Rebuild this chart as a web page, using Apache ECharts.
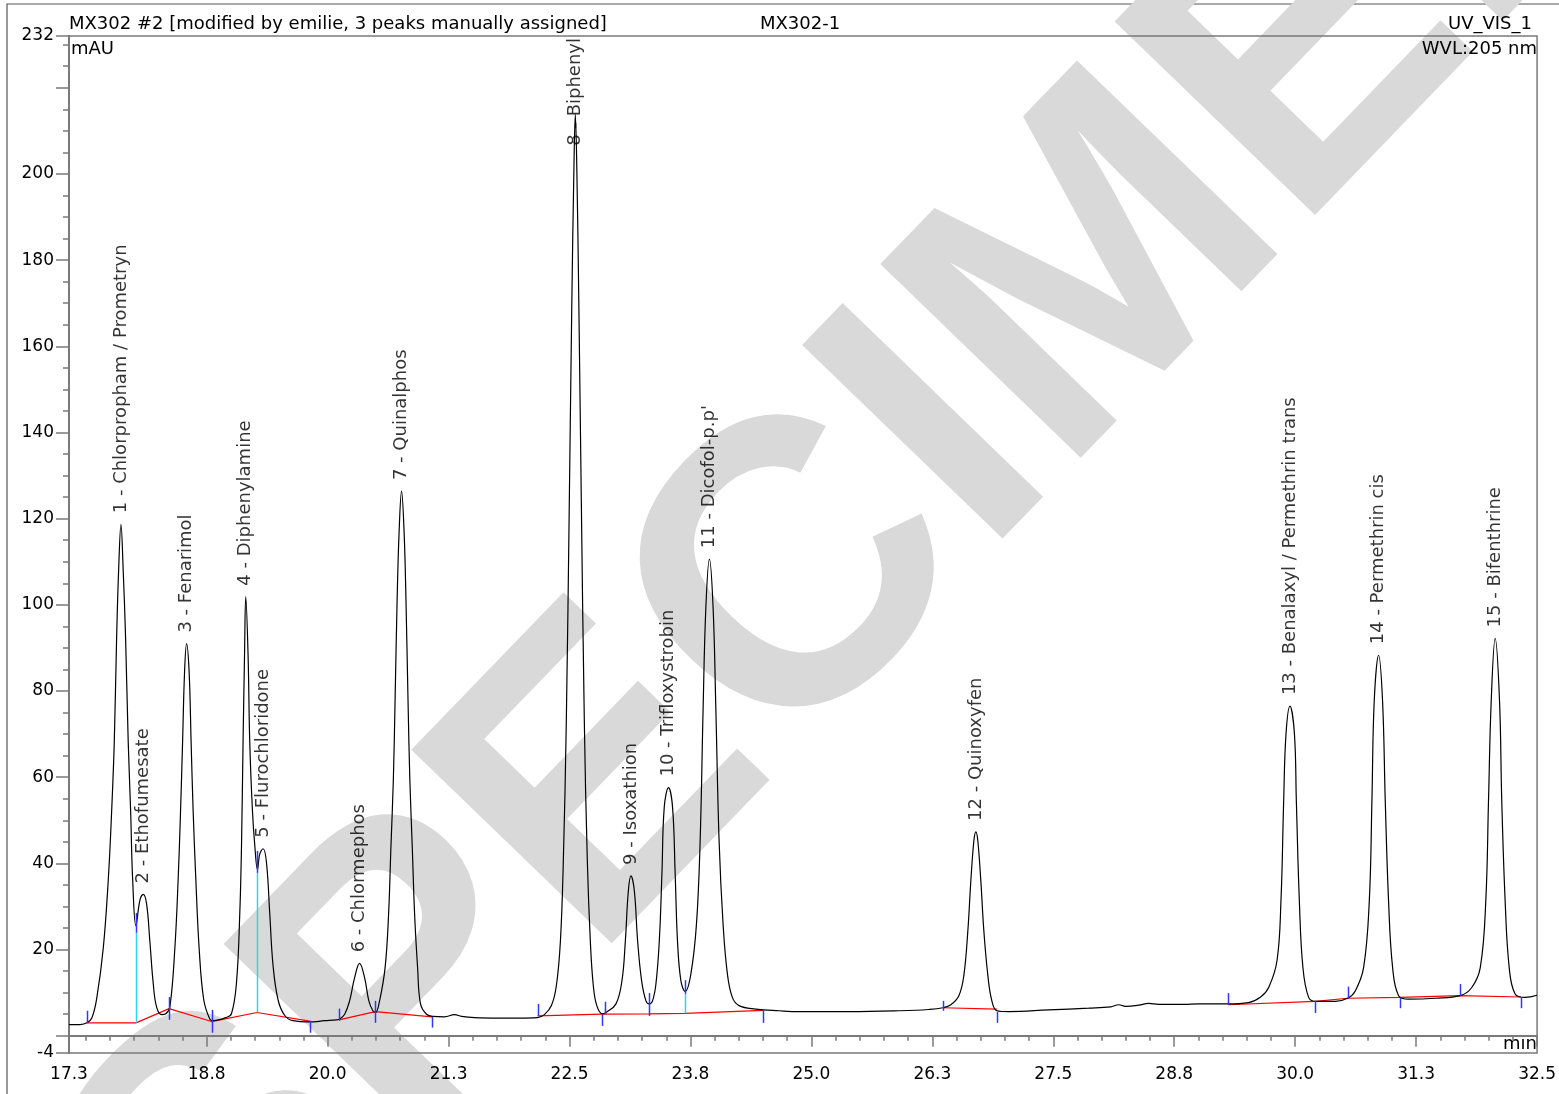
<!DOCTYPE html>
<html><head><meta charset="utf-8">
<script src="https://cdn.jsdelivr.net/npm/echarts@6/dist/echarts.min.js"></script>
<style>html,body{margin:0;padding:0;background:#fff;}#chart{width:1559px;height:1094px;}</style>
</head><body><div id="chart"></div>
<script>
// ---- chromatogram signal (time in min, signal in mAU) ----
const timeMin = [17.327,17.44,17.513,17.564,17.613,17.681,17.733,17.768,17.795,17.819,17.84,17.864,17.887,17.912,17.939,17.964,17.985,18.019,18.06,18.094,18.129,18.163,18.197,18.232,18.284,18.328,18.37,18.421,18.455,18.48,18.501,18.521,18.542,18.569,18.589,18.61,18.638,18.672,18.72,18.782,18.816,18.948,19.006,19.058,19.092,19.11,19.126,19.141,19.154,19.178,19.195,19.223,19.247,19.275,19.299,19.333,19.368,19.402,19.436,19.488,19.557,19.642,19.815,19.97,20.093,20.124,20.176,20.227,20.279,20.33,20.382,20.426,20.468,20.495,20.537,20.594,20.63,20.654,20.679,20.697,20.718,20.739,20.764,20.79,20.81,20.831,20.85,20.875,20.899,20.93,20.96,21.022,21.087,21.208,21.311,21.384,21.518,21.776,21.982,22.168,22.24,22.313,22.364,22.406,22.436,22.467,22.498,22.524,22.545,22.56,22.576,22.596,22.622,22.653,22.684,22.715,22.746,22.782,22.839,22.877,22.98,23.042,23.077,23.108,23.135,23.17,23.204,23.245,23.29,23.324,23.358,23.393,23.428,23.455,23.479,23.523,23.565,23.592,23.616,23.651,23.695,23.754,23.812,23.85,23.881,23.909,23.946,23.984,24.012,24.046,24.087,24.132,24.183,24.252,24.425,24.666,24.872,25.389,25.905,26.214,26.359,26.441,26.524,26.575,26.617,26.648,26.679,26.7,26.72,26.751,26.782,26.824,26.865,26.917,27.041,27.453,27.866,28.093,28.175,28.258,28.382,28.485,28.589,28.847,29.001,29.304,29.517,29.643,29.726,29.812,29.853,29.881,29.905,29.946,29.992,30.012,30.043,30.08,30.139,30.208,30.415,30.542,30.621,30.707,30.766,30.793,30.817,30.862,30.903,30.931,30.965,31.007,31.069,31.172,31.448,31.705,31.825,31.913,31.97,31.998,32.026,32.067,32.112,32.135,32.17,32.212,32.273,32.376,32.5];
const signal = [2.6,2.6,3.0,4.2,8.6,20.3,36.2,52.2,68.2,92.2,108.1,118.7,108.1,92.2,68.2,52.2,36.2,25.5,31.5,32.8,30.6,21.8,12.3,6.7,4.9,5.1,6.7,20.3,36.2,52.2,68.2,84.2,91.0,84.2,68.2,52.2,36.2,20.3,8.3,3.9,3.5,4.2,5.1,12.3,28.3,44.2,68.2,88.1,101.9,88.1,68.2,52.2,44.2,38.6,42.2,43.4,40.2,28.3,16.3,8.3,4.7,3.5,3.2,3.5,3.7,3.9,5.0,8.1,13.5,16.8,13.5,8.1,5.8,5.4,8.1,15.8,28.2,43.7,59.2,77.7,100.9,117.1,126.4,117.1,100.9,77.7,59.2,43.7,28.2,15.8,7.4,5.0,4.5,4.4,4.9,4.5,4.2,4.1,4.1,4.2,4.9,7.0,11.6,22.0,40.6,73.1,124.1,170.5,200.6,213.9,200.6,170.5,124.1,73.1,40.6,22.0,11.6,7.0,5.1,5.4,7.4,12.8,22.0,33.6,37.1,33.6,22.0,12.8,8.1,7.4,8.1,12.0,22.0,37.5,53.0,57.6,53.0,37.5,22.0,12.8,10.3,14.3,25.9,45.2,76.2,99.3,110.6,99.3,76.2,45.2,25.9,14.3,8.9,7.0,6.2,5.8,5.6,5.6,5.8,6.1,6.5,7.2,9.3,13.9,24.4,36.0,45.2,47.3,45.2,36.0,24.4,13.9,8.1,5.8,5.6,6.0,6.4,6.7,7.2,6.8,7.1,7.5,7.3,7.3,7.4,7.4,7.7,9.0,11.2,17.4,31.3,54.5,70.0,76.5,70.1,54.5,31.3,15.8,8.9,8.0,8.0,8.7,10.4,15.8,31.3,54.5,77.7,88.3,77.7,54.5,31.3,15.8,9.3,8.5,8.7,9.3,11.2,15.8,31.3,54.5,77.7,92.2,77.7,54.5,31.3,15.8,9.7,8.9,9.4];

// ---- peak apexes and names ----
const peakNames = ["1 - Chlorpropham / Prometryn","2 - Ethofumesate","3 - Fenarimol","4 - Diphenylamine","5 - Flurochloridone","6 - Chlormephos","7 - Quinalphos","8 - Biphenyl","9 - Isoxathion","10 - Trifloxystrobin","11 - Dicofol-p.p'","12 - Quinoxyfen","13 - Benalaxyl / Permethrin trans","14 - Permethrin cis","15 - Bifenthrine"];
const peakTimes = [17.864,18.094,18.542,19.154,19.333,20.33,20.764,22.56,23.135,23.523,23.946,26.7,29.946,30.862,32.067];
const peakHeights = [118.7,32.8,91.0,101.9,43.4,16.8,126.4,213.9,37.1,57.6,110.6,47.3,76.5,88.3,92.2];

// ---- integration baseline (null separates segments) ----
const baseT = [17.513,18.019,18.362,18.8,19.271,19.815,null,20.117,20.493,21.081,null,22.171,22.832,23.324,23.693,24.501,null,26.359,26.917,null,29.304,30.208,30.542,31.085,31.705,32.333];
const baseV = [3.0,3.0,6.3,3.3,5.4,3.4,null,3.7,5.6,4.4,null,4.6,5.0,5.1,5.2,5.9,null,6.5,6.2,null,7.2,8.0,8.7,8.9,9.3,9.0];

// ---- peak start/end markers ----
const markT  = [17.513,18.019,18.362,18.8,19.271,19.815,20.117,20.493,21.081,22.171,22.832,22.871,23.324,23.693,24.501,26.359,26.917,29.304,30.208,30.542,31.085,31.705,32.333];
const markLo = [3.0,23.9,3.7,0.7,37.8,0.7,3.5,3.0,1.9,4.6,2.3,5.0,4.6,9.7,3.0,5.8,3.0,7.2,5.3,8.8,6.4,9.3,6.4];
const markHi = [5.8,28.5,9.0,6.0,42.9,3.5,6.3,8.1,4.4,7.4,5.0,7.9,9.9,12.9,5.9,8.1,5.6,9.9,8.1,11.4,8.9,12.0,9.0];
// ---- drop lines ----
const dropT  = [18.019,19.271,23.693];
const dropLo = [3.0,5.4,5.2];
const dropHi = [23.9,37.8,9.7];

// ---- axes ----
const xTickValues = [17.327,18.75,20,21.25,22.5,23.75,25,26.25,27.5,28.75,30,31.25,32.5];
const xTickLabels = ["17.3","18.8","20.0","21.3","22.5","23.8","25.0","26.3","27.5","28.8","30.0","31.3","32.5"];
const yLabelValues = [-4,20,40,60,80,100,120,140,160,180,200,232];
const yMajorTicks = [-4,0,20,40,60,80,100,120,140,160,180,200,220,232];

const xMin = 17.327, xMax = 32.5, yMin = -4, yMax = 232;
const xMinorTicks = []; for (let k = 70; k <= 129; k++) { const v = k * 0.25; if (v > xMin && v < xMax) xMinorTicks.push(v); }
const yMinorTicks = []; for (let v = 0; v <= 230; v += 5) yMinorTicks.push(v);

const FONT = 'DejaVu Sans';
const AX = '#7a7a7a';

const chart = echarts.init(document.getElementById('chart'));

const curve = timeMin.map((t, i) => [t, signal[i]]);
const baseSeries = [];
let cur = [];
baseT.forEach((t, i) => {
  if (t === null) { if (cur.length) baseSeries.push(cur); cur = []; }
  else cur.push([t, baseV[i]]);
});
if (cur.length) baseSeries.push(cur);

const vtick = (color, width) => (params, api) => {
  const p1 = api.coord([api.value(0), api.value(1)]);
  const p2 = api.coord([api.value(0), api.value(2)]);
  return { type: 'line', shape: { x1: Math.round(p1[0]) + 0.5, y1: p1[1], x2: Math.round(p2[0]) + 0.5, y2: p2[1] }, style: { stroke: color, lineWidth: width } };
};

const txt = (text, x, y, align, extra) => Object.assign({
  type: 'text', x, y, silent: true,
  style: { text, fill: '#000', fontFamily: FONT, fontSize: 18, align, verticalAlign: 'top' }
}, extra || {});

const option = {
  animation: false,
  backgroundColor: '#fff',
  grid: { left: 69, right: 20, top: 36, bottom: 41, show: true, borderColor: AX, borderWidth: 1.5, backgroundColor: 'transparent' },
  xAxis: [
    { type: 'value', min: xMin, max: xMax, position: 'bottom',
      axisLine: { lineStyle: { color: AX, width: 2 } },
      axisTick: { customValues: xTickValues, length: 11, lineStyle: { color: AX, width: 1.5 } },
      axisLabel: { customValues: xTickValues, formatter: v => { const i = xTickValues.findIndex(x => Math.abs(x - v) < 1e-6); return i >= 0 ? xTickLabels[i] : v.toFixed(1); },
        color: '#000', fontFamily: FONT, fontSize: 17, margin: 13 },
      splitLine: { show: false } },
    { type: 'value', min: xMin, max: xMax, position: 'bottom',
      axisLine: { show: false },
      axisTick: { customValues: xMinorTicks, length: 5, lineStyle: { color: AX, width: 1.5 } },
      axisLabel: { show: false }, splitLine: { show: false } }
  ],
  yAxis: [
    { type: 'value', min: yMin, max: yMax,
      axisLine: { show: true, lineStyle: { color: AX, width: 2 } },
      axisTick: { show: true, customValues: yMajorTicks, length: 13, lineStyle: { color: AX, width: 1.5 } },
      axisLabel: { customValues: yLabelValues, formatter: v => String(v), color: '#000', fontFamily: FONT, fontSize: 17, margin: 15 },
      splitLine: { show: false } },
    { type: 'value', min: yMin, max: yMax,position: 'left',
      axisLine: { show: false },
      axisTick: { show: true, customValues: yMinorTicks, length: 6, lineStyle: { color: AX, width: 1.5 } },
      axisLabel: { show: false }, splitLine: { show: false } }
  ],
  graphic: [
    { type: 'rect', silent: true, z: -20, shape: { x: 7, y: 4, width: 1700, height: 1300 }, style: { fill: 'none', stroke: '#555', lineWidth: 1.2 } },
    { type: 'text', silent: true, z: -10, x: 872, y: 513, rotation: 46 * Math.PI / 180,
      style: { text: 'SPECIMEN', fill: '#d9d9d9', fontFamily: 'Liberation Sans', fontWeight: 'bold', fontSize: 405, align: 'center', verticalAlign: 'middle' } },
    txt('MX302 #2 [modified by emilie, 3 peaks manually assigned]', 69, 15, 'left'),
    txt('MX302-1', 760, 15, 'left'),
    txt('UV_VIS_1', 1532, 15, 'right'),
    txt('mAU', 71, 40, 'left'),
    txt('WVL:205 nm', 1537, 40, 'right'),
    txt('min', 1537, 1035, 'right')
  ],
  series: [
    { type: 'line', data: curve, xAxisIndex: 0, yAxisIndex: 0, showSymbol: false, smooth: 0.4,
      lineStyle: { color: '#000', width: 1.2 }, z: 4, silent: true },
    ...baseSeries.map(seg => ({ type: 'line', data: seg, showSymbol: false, lineStyle: { color: '#ff0000', width: 1.2 }, z: 3, silent: true })),
    { type: 'custom', renderItem: vtick('#26d9e8', 1.5), data: dropT.map((t, i) => [t, dropLo[i], dropHi[i]]), encode: { x: 0, y: [1, 2] }, z: 5, silent: true },
    { type: 'custom', renderItem: vtick('#3333ff', 1.5), data: markT.map((t, i) => [t, markLo[i], markHi[i]]), encode: { x: 0, y: [1, 2] }, z: 6, silent: true },
    { type: 'scatter', symbolSize: 0, silent: true, z: 7,
      data: peakNames.map((name, i) => {
        const pinned = peakHeights[i] > 200; // label cannot fit above the apex: hang it from the top of the plot
        return { name, value: [peakTimes[i], pinned ? yMax : peakHeights[i]],
          label: pinned ? { position: 'bottom', distance: 2, align: 'right' } : {} };
      }),
      label: { show: true, formatter: '{b}', position: 'top', distance: 11, rotate: 90, align: 'left', verticalAlign: 'middle',
        color: '#000', fontFamily: FONT, fontSize: 18 } }
  ]
};
chart.setOption(option);
</script></body></html>
